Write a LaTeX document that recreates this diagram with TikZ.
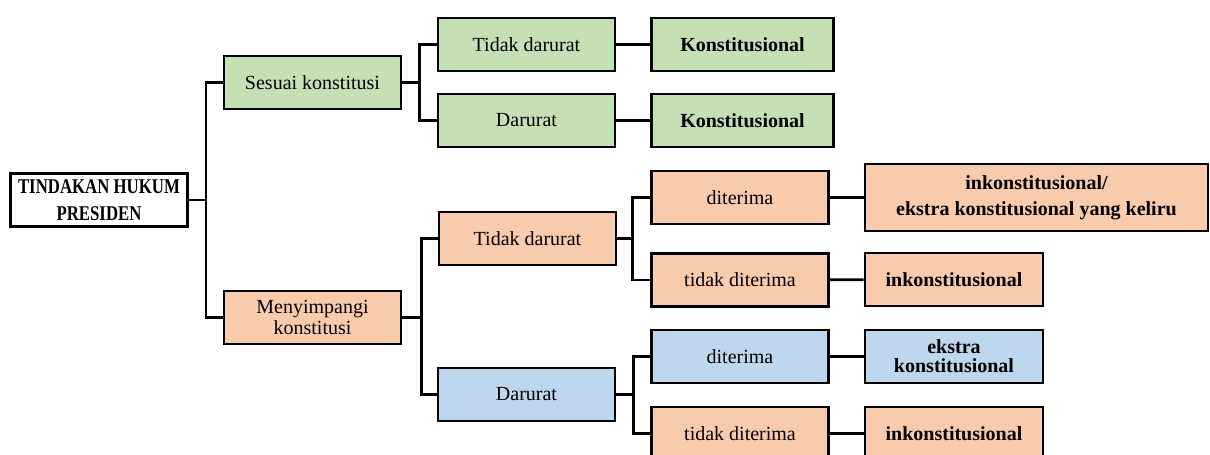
\documentclass[tikz,border=0pt]{standalone}
\usepackage{fontspec}
\setmainfont{Liberation Serif}
\newfontfamily\judulfont[FakeStretch=0.8]{Liberation Serif}
\definecolor{hijau}{HTML}{C5E0B4}
\definecolor{jingga}{HTML}{F8CBAD}
\definecolor{biru}{HTML}{BDD7EE}

\begin{document}
\begin{tikzpicture}[x=0.5pt,y=-0.5pt,
box/.style={rectangle,draw,line width=1.4pt,inner sep=0pt,align=center,minimum width=88.5pt,minimum height=26.5pt,font=\fontsize{10}{9}\selectfont},
gbox/.style={box,fill=hijau},
obox/.style={box,fill=jingga},
bbox/.style={box,fill=biru},
hasil/.style={font=\fontsize{10}{9.5}\selectfont\bfseries},
link/.style={line width=1.3pt}]
\clip (0,0) rectangle (1210,455);

\node[box,font=\judulfont\fontsize{10.5}{13.5}\selectfont\bfseries] at (99,200) (root) {TINDAKAN HUKUM\\PRESIDEN};

\node[gbox] at (312.5,82.5) (sesuai) {Sesuai konstitusi};
\node[gbox] at (526.5,44.5) (gtd) {Tidak darurat};
\node[gbox] at (526.5,120.5) (gd) {Darurat};
\node[gbox,hasil,minimum width=91pt] at (742.5,44.5) (gk1) {Konstitusional};
\node[gbox,hasil,minimum width=91pt] at (742.5,120.5) (gk2) {Konstitusional};

\node[obox] at (312.5,317.5) (menyimpang) {Menyimpangi\\konstitusi};
\node[obox] at (527.5,238.5) (otd) {Tidak darurat};
\node[bbox] at (526.5,394.5) (bd) {Darurat};

\node[obox] at (740,197.5) (oter) {diterima};
\node[obox] at (740,280) (otter) {tidak diterima};
\node[bbox] at (740,356.5) (bter) {diterima};
\node[obox] at (740,433.5) (btter) {tidak diterima};

\node[obox,hasil,minimum width=171.5pt,minimum height=33.5pt,font=\fontsize{10}{13}\selectfont\bfseries] at (1036.5,197.5) (ik1) {inkonstitusional/\\ekstra konstitusional yang keliru};
\node[obox,hasil,minimum width=89pt] at (954,279.5) (ik2) {inkonstitusional};
\node[bbox,hasil,minimum width=89pt] at (954,356.5) (ek) {ekstra\\konstitusional};
\node[obox,hasil,minimum width=89pt] at (954,433.5) (ik3) {inkonstitusional};

% cabang utama
\draw[link] (root.east) -- ++(17,0) coordinate (j0);
\draw[link] (sesuai.west) -| (j0) |- (menyimpang.west);

\draw[link] (sesuai.east) -- ++(17,0) coordinate (j1);
\draw[link] (gtd.west) -| (j1) |- (gd.west);
\draw[link] (gtd) -- (gk1);
\draw[link] (gd) -- (gk2);

\draw[link] (menyimpang.east) -- ++(19,0) coordinate (j2);
\draw[link] (otd.west) -| (j2) |- (bd.west);

\draw[link] (otd.east) -- ++(15,0) coordinate (j3);
\draw[link] (oter.west) -| (j3) |- (otter.west);
\draw[link] (bd.east) -- ++(17,0) coordinate (j4);
\draw[link] (bter.west) -| (j4) |- (btter.west);

\draw[link] (oter) -- (oter -| ik1.west);
\draw[link] (otter) -- (ik2);
\draw[link] (bter) -- (ek);
\draw[link] (btter) -- (ik3);
\end{tikzpicture}
\end{document}
